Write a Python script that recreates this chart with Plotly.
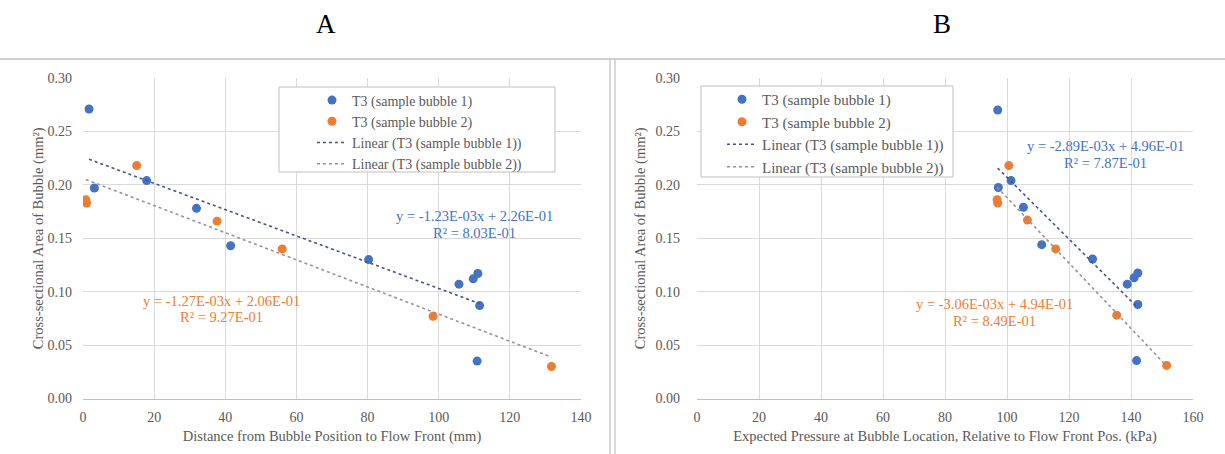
import numpy as np
import plotly.graph_objects as go

# ---------------- data ----------------
# Panel A: distance from bubble position to flow front (mm)
a_x1 = [1.7, 3.2, 17.9, 31.9, 41.5, 80.3, 105.7, 109.7, 111.0, 111.5, 110.8]
a_y1 = [0.271, 0.197, 0.204, 0.178, 0.143, 0.130, 0.107, 0.112, 0.117, 0.087, 0.035]
a_x2 = [1.0, 0.8, 15.1, 37.7, 56.0, 98.4, 131.7]
a_y2 = [0.183, 0.186, 0.218, 0.166, 0.140, 0.077, 0.030]

# Panel B: expected pressure at bubble location (kPa)
b_x1 = [97.0, 97.2, 101.3, 105.3, 111.2, 127.6, 138.8, 141.0, 142.2, 142.2, 141.8]
b_y1 = [0.270, 0.1975, 0.204, 0.179, 0.144, 0.1306, 0.107, 0.113, 0.1175, 0.088, 0.0355]
b_x2 = [97.0, 96.8, 100.6, 106.6, 115.7, 135.4, 151.5]
b_y2 = [0.183, 0.186, 0.218, 0.167, 0.140, 0.078, 0.031]

# trendline coefficients (slope, intercept) as printed on the chart
a_fit1 = (-1.23e-03, 2.26e-01)
a_fit2 = (-1.27e-03, 2.06e-01)
b_fit1 = (-2.89e-03, 4.96e-01)
b_fit2 = (-3.06e-03, 4.94e-01)

a_eq1 = ("y = -1.23E-03x + 2.26E-01", "R² = 8.03E-01")
a_eq2 = ("y = -1.27E-03x + 2.06E-01", "R² = 9.27E-01")
b_eq1 = ("y = -2.89E-03x + 4.96E-01", "R² = 7.87E-01")
b_eq2 = ("y = -3.06E-03x + 4.94E-01", "R² = 8.49E-01")

name1 = "T3 (sample bubble 1)"
name2 = "T3 (sample bubble 2)"
lin1 = "Linear (T3 (sample bubble 1))"
lin2 = "Linear (T3 (sample bubble 2))"

a_xticks = [0, 20, 40, 60, 80, 100, 120, 140]
b_xticks = [0, 20, 40, 60, 80, 100, 120, 140, 160]
y_ticks = [0.00, 0.05, 0.10, 0.15, 0.20, 0.25, 0.30]

a_xtitle = "Distance from Bubble Position to Flow Front (mm)"
b_xtitle = "Expected Pressure at Bubble Location, Relative to Flow Front Pos. (kPa)"
ytitle = "Cross-sectional Area of Bubble (mm²)"

# ---------------- style ----------------
FONT = "Liberation Serif"
GREY = "#595959"
BLUE = "#4472C4"
ORANGE = "#ED7D31"
TREND1 = "#44548a"
TREND2 = "#9a9290"
W, H = 1225, 454


def px_x(p):
    return p / W


def px_y(p):
    return 1 - p / H


fig = go.Figure()


def add_panel(xs1, ys1, xs2, ys2, fit1, fit2, xa, ya, leg):
    fig.add_trace(go.Scatter(x=xs1, y=ys1, mode="markers", name=name1, legendgroup=leg + "a",
                             marker=dict(color=BLUE, size=9),
                             xaxis=xa, yaxis=ya, legend=leg))
    fig.add_trace(go.Scatter(x=xs2, y=ys2, mode="markers", name=name2, legendgroup=leg + "b",
                             marker=dict(color=ORANGE, size=9),
                             xaxis=xa, yaxis=ya, legend=leg))
    for xs, fit, nm, col, g in ((xs1, fit1, lin1, TREND1, "c"), (xs2, fit2, lin2, TREND2, "d")):
        xr = np.array([min(xs), max(xs)])
        fig.add_trace(go.Scatter(x=xr, y=fit[0] * xr + fit[1], mode="lines", name=nm,
                                 legendgroup=leg + g,
                                 line=dict(color=col, width=1.6, dash="dot"),
                                 xaxis=xa, yaxis=ya, legend=leg))


add_panel(a_x1, a_y1, a_x2, a_y2, a_fit1, a_fit2, "x", "y", "legend")
add_panel(b_x1, b_y1, b_x2, b_y2, b_fit1, b_fit2, "x2", "y2", "legend2")

ydom = [px_y(398.5), px_y(78)]
tickf = dict(family=FONT, size=14, color=GREY)
titf = dict(family=FONT, size=14.5, color=GREY)
axis_common = dict(showgrid=True, gridcolor="#d9d9d9", gridwidth=1, zeroline=False,
                   tickfont=tickf, ticks="")

fig.update_layout(
    width=W, height=H,
    margin=dict(l=0, r=0, t=0, b=0, autoexpand=False),
    paper_bgcolor="white", plot_bgcolor="white",
    font=dict(family=FONT, color=GREY),
    xaxis=dict(domain=[px_x(83), px_x(581)], range=[0, 140], tickvals=a_xticks,
               showline=True, linecolor="#bfbfbf", anchor="y", ticklabelstandoff=6,
               title=dict(text=a_xtitle, font=titf, standoff=6), **axis_common),
    yaxis=dict(domain=ydom, range=[0, 0.30], tickvals=y_ticks, tickformat=".2f", anchor="x",
               ticklabelstandoff=10,
               title=dict(text=ytitle, font=titf, standoff=0), **axis_common),
    xaxis2=dict(domain=[px_x(697), px_x(1193)], range=[0, 160], tickvals=b_xticks,
                showline=True, linecolor="#bfbfbf", anchor="y2", ticklabelstandoff=6,
                title=dict(text=b_xtitle, font=titf, standoff=6), **axis_common),
    yaxis2=dict(domain=ydom, range=[0, 0.30], tickvals=y_ticks, tickformat=".2f", anchor="x2",
                ticklabelstandoff=16,
                title=dict(text=ytitle, font=titf, standoff=6), **axis_common),
    legend=dict(x=px_x(312), y=px_y(84.5), xanchor="left", yanchor="top",
                bgcolor="rgba(0,0,0,0)", borderwidth=0,
                font=dict(family=FONT, size=14, color=GREY), tracegroupgap=0),
    legend2=dict(x=px_x(722), y=px_y(83), xanchor="left", yanchor="top",
                 bgcolor="rgba(0,0,0,0)", borderwidth=0,
                 font=dict(family=FONT, size=15, color=GREY), tracegroupgap=0),
)

# legend frames (white boxes over the gridlines)
for x0, y0, x1, y1 in ((279, 87, 555, 172), (701, 86, 953, 177)):
    fig.add_shape(type="rect", xref="paper", yref="paper",
                  x0=px_x(x0), x1=px_x(x1), y0=px_y(y1), y1=px_y(y0),
                  fillcolor="white", line=dict(color="#bfbfbf", width=1), layer="above")

# equation labels (two lines each)
for (l1, l2), x, y, col, xa, ya in (
    (a_eq1, 110.0, 0.1633, BLUE, "x", "y"),
    (a_eq2, 38.9, 0.0838, ORANGE, "x", "y"),
    (b_eq1, 131.9, 0.2285, BLUE, "x2", "y2"),
    (b_eq2, 96.1, 0.0808, ORANGE, "x2", "y2"),
):
    for txt, sh in ((l1, 8), (l2, -8.5)):
        fig.add_annotation(text=txt, x=x, y=y, xref=xa, yref=ya, showarrow=False,
                           yshift=sh, xanchor="center", yanchor="middle",
                           font=dict(family=FONT, size=14.5, color=col))

# panel titles
for txt, xp in (("A", 326), ("B", 942)):
    fig.add_annotation(text=txt, x=px_x(xp), y=px_y(24), xref="paper", yref="paper",
                       xanchor="center", yanchor="middle", showarrow=False,
                       font=dict(family=FONT, size=27, color="black"))

# table-like frame lines
fig.add_shape(type="line", xref="paper", yref="paper", x0=0, x1=1, y0=px_y(59), y1=px_y(59),
              line=dict(color="#bfbfbf", width=1.5))
for xp in (610, 615):
    fig.add_shape(type="line", xref="paper", yref="paper", x0=px_x(xp), x1=px_x(xp),
                  y0=0, y1=px_y(59), line=dict(color="#bfbfbf", width=1.2))

fig.write_html("out.html")
